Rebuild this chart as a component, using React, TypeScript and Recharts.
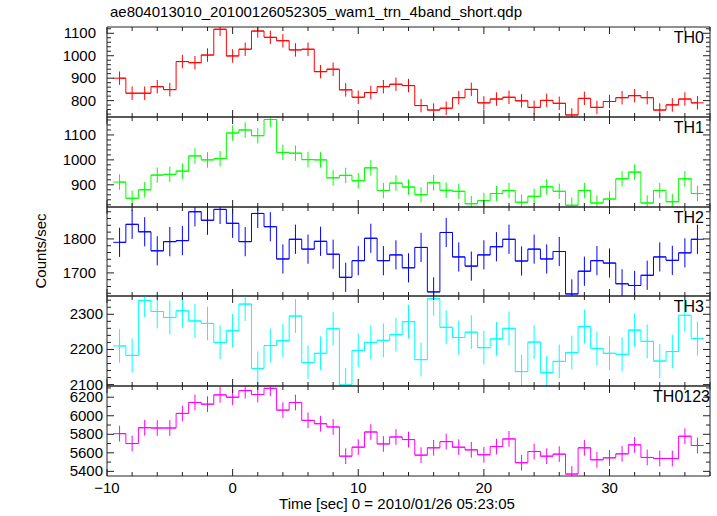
import { ComposedChart, Line, Scatter, XAxis, YAxis, ErrorBar, ReferenceArea } from 'recharts'

// bin centres (sec), 1 s bins
const times = [
  -9, -8, -7, -6, -5, -4, -3, -2, -1, 0, 1, 2, 3, 4, 5, 6, 7, 8, 9, 10, 11, 12,
  13, 14, 15, 16, 17, 18, 19, 20, 21, 22, 23, 24, 25, 26, 27, 28, 29, 30, 31, 32,
  33, 34, 35, 36, 37,
]

const th0 = [
  900, 833, 833, 862, 849, 974, 969, 1003, 1118, 999, 1029, 1110, 1082, 1067, 1026, 1029, 929, 940, 848, 815, 836, 862,
  873, 867, 778, 758, 766, 813, 850, 790, 807, 815, 799, 770, 801, 788, 736, 810, 770, 796, 813, 822, 813, 758, 781, 807, 790,
]
const th1 = [
  911, 846, 880, 939, 942, 955, 1016, 1000, 1005, 1108, 1120, 1097, 1162, 1030, 1027, 1001, 1000, 928, 938, 916, 968, 877,
  907, 891, 860, 908, 878, 874, 824, 837, 865, 877, 830, 854, 892, 874, 818, 877, 827, 843, 924, 951, 827, 877, 832, 924, 865,
]
const th2 = [
  1790, 1843, 1821, 1765, 1792, 1795, 1880, 1855, 1887, 1846, 1792, 1875, 1836, 1741, 1799, 1770, 1793, 1755, 1687, 1736, 1802, 1736,
  1753, 1715, 1775, 1644, 1819, 1747, 1720, 1753, 1777, 1799, 1735, 1770, 1741, 1763, 1638, 1705, 1736, 1729, 1668, 1663, 1693, 1747, 1737, 1759, 1799,
]
const th3 = [
  2210, 2183, 2339, 2308, 2291, 2310, 2281, 2274, 2220, 2253, 2329, 2146, 2211, 2225, 2295, 2163, 2189, 2259, 2099, 2197, 2220, 2226,
  2242, 2279, 2171, 2344, 2263, 2234, 2249, 2205, 2230, 2260, 2137, 2221, 2134, 2166, 2191, 2265, 2203, 2189, 2186, 2255, 2223, 2167, 2194, 2297, 2231,
]
const th0123 = [
  5807, 5700, 5871, 5868, 5868, 6025, 6143, 6125, 6225, 6200, 6271, 6229, 6296, 6061, 6143, 5950, 5914, 5879, 5564, 5661, 5825, 5696,
  5771, 5743, 5575, 5654, 5721, 5661, 5632, 5579, 5668, 5750, 5493, 5614, 5564, 5586, 5371, 5654, 5525, 5546, 5589, 5686, 5550, 5539, 5539, 5779, 5679,
]

// 1-sigma errors (roughly constant per band) and half bin width
const th0Err = 30
const th1Err = 31
const th2Err = 43
const th3Err = 48
const th0123Err = 85
const halfBin = 0.5

const xMajorTicks = [-10, 0, 10, 20, 30]
const th0Ticks = [800, 900, 1000, 1100]
const th1Ticks = [900, 1000, 1100]
const th2Ticks = [1700, 1800]
const th3Ticks = [2100, 2200, 2300]
const th0123Ticks = [5400, 5600, 5800, 6000, 6200]

const W = 717
const H = 516
const PLOT_LEFT = 107
const PLOT_RIGHT = 710
const X_DOMAIN: [number, number] = [-10, 38]
const FONT = '"Liberation Sans", Arial, Helvetica, sans-serif'
const INK = '#222'

function range(from: number, to: number, step: number) {
  const out: number[] = []
  for (let v = from; v <= to + 1e-9; v += step) out.push(Math.round(v * 1000) / 1000)
  return out
}

const xTicks = range(-10, 38, 2)

const panels = [
  { name: 'TH0', values: th0, err: th0Err, color: '#ff0000', domain: [727, 1128], major: th0Ticks, minor: 20, top: 27, bottom: 117, labelRight: 96, nameRight: 704 },
  { name: 'TH1', values: th1, err: th1Err, color: '#00ff00', domain: [811, 1172], major: th1Ticks, minor: 20, top: 117, bottom: 207, labelRight: 96, nameRight: 704 },
  { name: 'TH2', values: th2, err: th2Err, color: '#0000ff', domain: [1632, 1894], major: th2Ticks, minor: 20, top: 207, bottom: 296, labelRight: 96, nameRight: 704 },
  { name: 'TH3', values: th3, err: th3Err, color: '#00ffff', domain: [2096, 2352], major: th3Ticks, minor: 20, top: 296, bottom: 386, labelRight: 103, nameRight: 704 },
  { name: 'TH0123', values: th0123, err: th0123Err, color: '#ff00ff', domain: [5350, 6321], major: th0123Ticks, minor: 100, top: 386, bottom: 476, labelRight: 103, nameRight: 710 },
]

type Cfg = (typeof panels)[number]

// ticks point inward; the coordinate across the axis is the frame edge
function xTick(edgeY: number, dir: 1 | -1, withLabel: boolean) {
  return (p: any) => {
    const v = p.payload.value
    const major = xMajorTicks.includes(v)
    const len = major ? 7 : 4
    return (
      <g>
        <line x1={p.x} x2={p.x} y1={edgeY} y2={edgeY + dir * len} stroke={INK} />
        {withLabel && major && (
          <text x={p.x} y={edgeY + 17} textAnchor="middle" fontSize={15} fontFamily={FONT} fill="#000">
            {v < 0 ? '\u2212' + Math.abs(v) : String(v)}
          </text>
        )}
      </g>
    )
  }
}

function yTick(edgeX: number, dir: 1 | -1, majors: number[], labelRight?: number) {
  return (p: any) => {
    const v = p.payload.value
    const major = majors.includes(v)
    const len = major ? 7 : 4
    return (
      <g>
        <line x1={edgeX} x2={edgeX + dir * len} y1={p.y} y2={p.y} stroke={INK} />
        {labelRight !== undefined && major && (
          <text x={labelRight} y={p.y + 5} textAnchor="end" fontSize={15} fontFamily={FONT} fill="#000">
            {String(v)}
          </text>
        )}
      </g>
    )
  }
}

function Panel({ cfg, last }: { cfg: Cfg; last: boolean }) {
  const padTop = 12
  const padBottom = last ? 40 : 12
  const h = cfg.bottom - cfg.top
  const data = times.map((t, i) => ({ t, v: cfg.values[i], e: cfg.err, xe: halfBin }))
  const [lo, hi] = cfg.domain
  const yTicks = range(Math.ceil(lo / cfg.minor) * cfg.minor, hi, cfg.minor)

  return (
    <>
      {/* data layer: svg is exactly the plot area, so error bars are clipped at the frame */}
      <div style={{ position: 'absolute', left: 0, top: cfg.top }}>
        <ComposedChart width={W} height={h} data={data}
          margin={{ top: 0, bottom: 0, left: PLOT_LEFT, right: W - PLOT_RIGHT }}>
          <XAxis xAxisId="b" dataKey="t" type="number" domain={X_DOMAIN} allowDataOverflow hide />
          <YAxis yAxisId="l" type="number" domain={cfg.domain} allowDataOverflow hide />
          <Line xAxisId="b" yAxisId="l" type="step" dataKey="v" stroke={cfg.color} strokeWidth={1}
            dot={false} activeDot={false} isAnimationActive={false} />
          <Scatter xAxisId="b" yAxisId="l" dataKey="v" shape={() => <g />} isAnimationActive={false}>
            <ErrorBar dataKey="e" direction="y" width={0} stroke={cfg.color} strokeWidth={1} isAnimationActive={false} />
            <ErrorBar dataKey="xe" direction="x" width={0} stroke={cfg.color} strokeWidth={1} isAnimationActive={false} />
          </Scatter>
        </ComposedChart>
      </div>
      {/* frame, ticks and tick labels */}
      <div style={{ position: 'absolute', left: 0, top: cfg.top - padTop }}>
        <ComposedChart width={W} height={h + padTop + padBottom} data={data}
          margin={{ top: padTop - 1, bottom: padBottom - 1, left: PLOT_LEFT - 60, right: W - PLOT_RIGHT - 1 }}>
          <XAxis xAxisId="b" dataKey="t" type="number" domain={X_DOMAIN} allowDataOverflow ticks={xTicks} interval={0}
            height={1} tickSize={0} tickMargin={0} tickLine={false} axisLine={false} tick={xTick(padTop + h, -1, last)} />
          <XAxis xAxisId="t" orientation="top" dataKey="t" type="number" domain={X_DOMAIN} allowDataOverflow ticks={xTicks} interval={0}
            height={1} tickSize={0} tickMargin={0} tickLine={false} axisLine={false} tick={xTick(padTop, 1, false)} />
          <YAxis yAxisId="l" width={60} type="number" domain={cfg.domain} allowDataOverflow ticks={yTicks} interval={0}
            tickSize={0} tickMargin={0} tickLine={false} axisLine={false} tick={yTick(PLOT_LEFT, 1, cfg.major, cfg.labelRight)} />
          <YAxis yAxisId="r" orientation="right" width={1} type="number" domain={cfg.domain} allowDataOverflow ticks={yTicks} interval={0}
            tickSize={0} tickMargin={0} tickLine={false} axisLine={false} tick={yTick(PLOT_RIGHT, -1, cfg.major)} />
          <ReferenceArea xAxisId="b" yAxisId="l" x1={X_DOMAIN[0]} x2={X_DOMAIN[1]} y1={lo} y2={hi}
            fill="none" fillOpacity={0} stroke={INK} strokeWidth={1} ifOverflow="visible" />
        </ComposedChart>
      </div>
    </>
  )
}

export default function App() {
  return (
    <div style={{ position: 'absolute', left: 0, top: 0, width: W, height: H, background: '#fff', overflow: 'hidden' }}>
      {panels.map((p, i) => (
        <Panel key={p.name} cfg={p} last={i === panels.length - 1} />
      ))}
      <svg width={W} height={H} style={{ position: 'absolute', left: 0, top: 0, pointerEvents: 'none' }}>
        <g fontFamily={FONT} fill="#000">
          <text x={110} y={17} fontSize={15}>ae804013010_20100126052305_wam1_trn_4band_short.qdp</text>
          <text transform="translate(46,251) rotate(-90)" textAnchor="middle" fontSize={15}>Counts/sec</text>
          <text x={397} y={509} textAnchor="middle" fontSize={15}>Time [sec] 0 = 2010/01/26 05:23:05</text>
          {panels.map((p) => (
            <text key={p.name} x={p.nameRight} y={p.top + 16} textAnchor="end" fontSize={16}>{p.name}</text>
          ))}
        </g>
      </svg>
    </div>
  )
}
